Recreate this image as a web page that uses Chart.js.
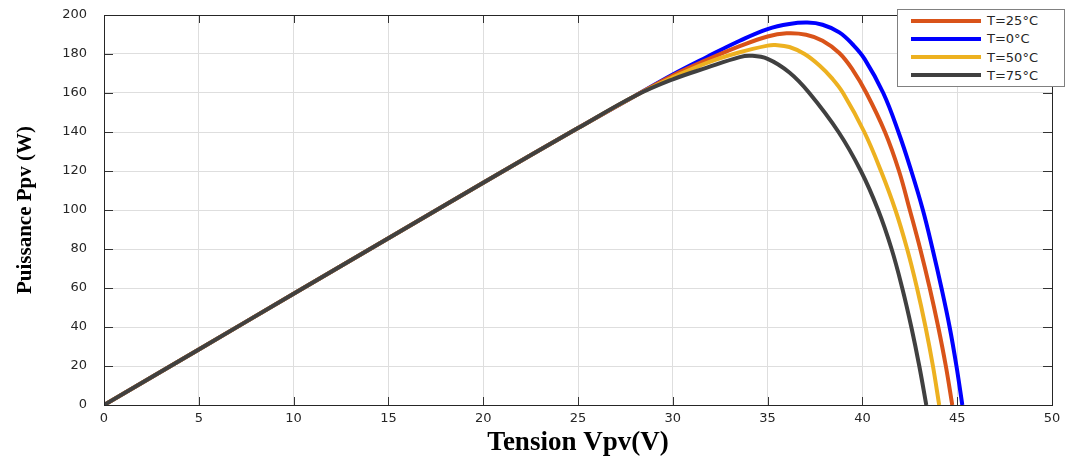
<!DOCTYPE html>
<html>
<head>
<meta charset="utf-8">
<script src="https://cdn.jsdelivr.net/npm/chart.js@4.4.0/dist/chart.umd.min.js"></script>
<style>
    body{ margin:0; background:#fff; }
    #wrap{ position:relative; width:1067px; height:457px; }
    #legend{
        position:absolute; left:897px; top:9px; width:166px; height:76px;
        border:1px solid #808080; background:#fff;
        font-family:"DejaVu Sans", sans-serif; font-size:13px; color:#262626;
    }
    .row{ position:absolute; left:13px; height:18px; line-height:18px; white-space:nowrap; }
    .row span.sw{ display:inline-block; width:70px; height:4px; vertical-align:middle; margin-right:6px; }
    .row span.tx{ vertical-align:middle; }
</style>
</head>
<body>
<div id="wrap">
    <canvas id="myChart" width="1067" height="457"></canvas>
    <div id="legend"></div>
</div>
<script>
// T=25°C
var v25 = [0, 5, 10, 15, 20, 25, 28, 30, 31.8, 33.53, 35, 36.0, 37.03, 37.9, 38.78, 39.48, 40.21, 41.19, 41.93, 42.5, 43.05, 43.55, 44.0, 44.4, 44.74];
var p25 = [0, 28.5, 57, 85.5, 114, 142, 158.5, 169, 177, 184, 189, 190.6, 189.9, 186.8, 180.5, 172, 160, 140, 120, 100, 80, 60, 40, 20, 0];
// T=0°C
var v0 = [0, 5, 10, 15, 20, 25, 28, 30, 31.8, 33.53, 35, 36.15, 37.1, 37.9, 38.78, 39.48, 40.12, 41.1, 41.9, 42.58, 43.19, 43.7, 44.17, 44.6, 44.96, 45.27];
var p0 = [0, 28.5, 57, 85.5, 114, 142, 158.5, 169.5, 178.5, 186.8, 192.8, 195.4, 196.1, 195, 191.1, 185, 177.4, 160, 140, 120, 100, 80, 60, 40, 20, 0];
// T=50°C
var v50 = [0, 5, 10, 15, 20, 25, 28, 30, 31.8, 33.53, 35, 35.4, 36.15, 36.95, 37.75, 38.4, 38.98, 40.1, 40.98, 41.74, 42.36, 42.88, 43.33, 43.72, 44.05];
var p50 = [0, 28.5, 57, 85.5, 114, 142, 158.5, 168, 175.5, 180.9, 184.3, 184.6, 183.6, 180, 174, 167.5, 160, 140, 120, 100, 80, 60, 40, 20, 0];
// T=75°C
var v75 = [0, 5, 10, 15, 20, 25, 28, 30, 31.8, 33.53, 34.1, 35, 36.15, 37.2, 38.74, 39.92, 40.83, 41.54, 42.1, 42.58, 43.0, 43.37];
var p75 = [0, 28.5, 57, 85.5, 114, 142, 158.5, 167, 173, 178.4, 179.1, 177.5, 170.5, 160, 140, 120, 100, 80, 60, 40, 20, 0];

var xTicks = [0, 5, 10, 15, 20, 25, 30, 35, 40, 45, 50];
var yTicks = [0, 20, 40, 60, 80, 100, 120, 140, 160, 180, 200];

function pts(v, p){
    var out = [];
    for (var i = 0; i < v.length; i++) out.push({x: v[i], y: p[i]});
    return out;
}

function serie(label, v, p, color, order){
    return {
        label: label,
        data: pts(v, p),
        borderColor: color,
        backgroundColor: color,
        borderWidth: 4,
        pointRadius: 0,
        fill: false,
        tension: 0.4,
        order: order
    };
}

var datasets = [
    serie('T=25°C', v25, p25, '#D95319', 2),
    serie('T=0°C', v0, p0, '#0000FF', 3),
    serie('T=50°C', v50, p50, '#EDB120', 1),
    serie('T=75°C', v75, p75, '#404040', 0)
];

// box round the plot + inward ticks, like the original figure
var frame = {
    id: 'frame',
    afterDraw: function(chart){
        var ctx = chart.ctx, a = chart.chartArea;
        var xs = chart.scales.x, ys = chart.scales.y;
        ctx.save();
        ctx.strokeStyle = '#333';
        ctx.lineWidth = 1;
        ctx.beginPath();
        xTicks.forEach(function(t){
            var px = Math.round(xs.getPixelForValue(t)) + 0.5;
            ctx.moveTo(px, a.bottom); ctx.lineTo(px, a.bottom - 8);
            ctx.moveTo(px, a.top); ctx.lineTo(px, a.top + 8);
        });
        yTicks.forEach(function(t){
            var py = Math.round(ys.getPixelForValue(t)) + 0.5;
            ctx.moveTo(a.left, py); ctx.lineTo(a.left + 9, py);
            ctx.moveTo(a.right, py); ctx.lineTo(a.right - 9, py);
        });
        ctx.stroke();
        ctx.strokeStyle = '#262626';
        ctx.strokeRect(a.left + 0.5, a.top + 0.5, a.right - a.left, a.bottom - a.top);
        ctx.restore();
    }
};

var ctx = document.getElementById('myChart').getContext('2d');
var chart = new Chart(ctx, {
    type: 'line',
    data: { datasets: datasets },
    plugins: [frame],
    options: {
        responsive: false,
        animation: false,
        layout: { padding: { left: 0, top: 15, right: 15, bottom: 0 } },
        plugins: {
            legend: { display: false },
            tooltip: { enabled: false }
        },
        scales: {
            x: {
                type: 'linear',
                min: 0, max: 50,
                afterFit: function(s){ s.height = 52; s.paddingLeft = 0; s.paddingRight = 0; },
                afterBuildTicks: function(s){ s.ticks = xTicks.map(function(v){ return {value: v}; }); },
                ticks: {
                    padding: 6,
                    color: '#262626',
                    font: { family: 'DejaVu Sans', size: 13 },
                    maxRotation: 0
                },
                grid: { color: '#dedede', drawTicks: false },
                border: { display: false },
                title: {
                    display: true,
                    text: 'Tension Vpv(V)',
                    color: '#000',
                    font: { family: 'Liberation Serif', weight: 'bold', size: 27, lineHeight: 1 },
                    padding: { top: 0, bottom: 0 }
                }
            },
            y: {
                min: 0, max: 200,
                afterFit: function(s){ s.width = 104; s.paddingTop = 0; s.paddingBottom = 0; },
                afterBuildTicks: function(s){ s.ticks = yTicks.map(function(v){ return {value: v}; }); },
                ticks: {
                    padding: 17,
                    color: '#262626',
                    font: { family: 'DejaVu Sans', size: 13 }
                },
                grid: { color: '#dedede', drawTicks: false },
                border: { display: false },
                title: {
                    display: true,
                    text: 'Puissance Ppv (W)',
                    color: '#000',
                    font: { family: 'Liberation Serif', weight: 'bold', size: 21 },
                    padding: { top: 13, bottom: 0 }
                }
            }
        }
    }
});

// legend box, same order as the original
var leg = document.getElementById('legend');
datasets.forEach(function(d, i){
    var row = document.createElement('div');
    row.className = 'row';
    row.style.top = (1 + i * 18.3) + 'px';
    row.innerHTML = '<span class="sw" style="background:' + d.borderColor + '"></span><span class="tx">' + d.label + '</span>';
    leg.appendChild(row);
});
</script>
</body>
</html>
